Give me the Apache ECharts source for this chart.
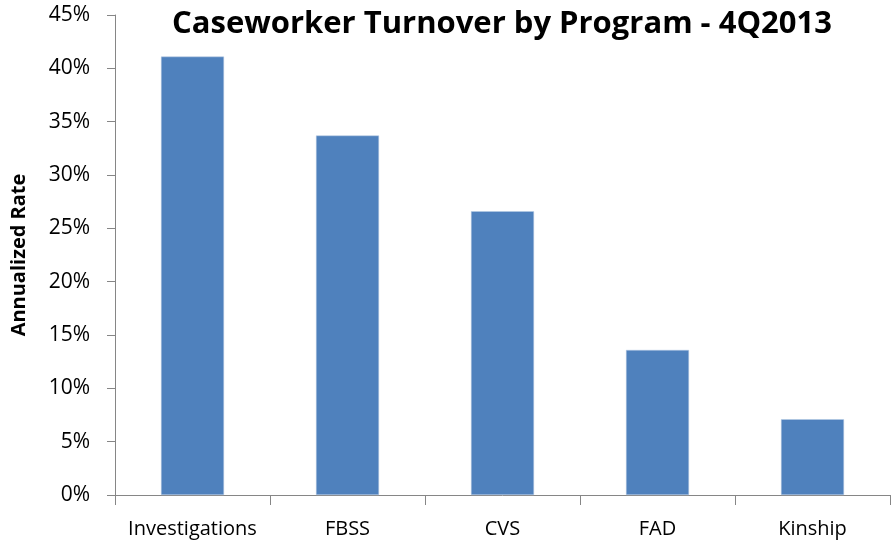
<!DOCTYPE html>
<html>
<head>
<meta charset="utf-8">
<script src="https://cdn.jsdelivr.net/npm/echarts@6/dist/echarts.min.js"></script>
<style>
  html, body { margin: 0; padding: 0; background: #fff; }
  #chart { width: 891px; height: 545px; }
</style>
</head>
<body>
<div id="chart"></div>
<script>
const programs = ['Investigations', 'FBSS', 'CVS', 'FAD', 'Kinship'];
const turnoverRates = [41.1, 33.7, 26.6, 13.6, 7.1];
const yTicks = { min: 0, max: 45, interval: 5 };

const chart = echarts.init(document.getElementById('chart'));

const font = '"Open Sans", Lato, sans-serif';

chart.setOption({
  animation: false,
  title: {
    text: 'Caseworker Turnover by Program - 4Q2013',
    left: 497,
    top: 4,
    textAlign: 'center',
    textStyle: { fontFamily: font, fontSize: 31, fontWeight: 'bold', color: '#000' }
  },
  grid: { left: 115, right: 1, top: 15, bottom: 50, outerBoundsMode: 'none' },
  xAxis: {
    type: 'category',
    data: programs,
    axisLine: { lineStyle: { color: '#868686', width: 1 } },
    axisTick: { show: true, alignWithLabel: false, length: 10, lineStyle: { color: '#868686' } },
    axisLabel: { interval: 0, fontFamily: font, fontSize: 20, color: '#000', margin: 24 }
  },
  yAxis: {
    type: 'value',
    min: yTicks.min,
    max: yTicks.max,
    interval: yTicks.interval,
    name: 'Annualized Rate',
    nameLocation: 'middle',
    nameGap: 86,
    nameTextStyle: { fontFamily: font, fontSize: 20, fontWeight: 'bold', color: '#000' },
    axisLine: { show: true, lineStyle: { color: '#868686', width: 1 } },
    axisTick: { show: true, length: 8, lineStyle: { color: '#868686' } },
    splitLine: { show: false },
    axisLabel: {
      fontFamily: font, fontSize: 21, color: '#000', margin: 15,
      padding: [0, 10, 0, 0], formatter: '{value}%'
    }
  },
  series: [{
    type: 'bar',
    data: turnoverRates,
    barWidth: 63,
    itemStyle: { color: '#4F81BD', borderColor: '#B9CDE5', borderWidth: 0.5 }
  }]
});
</script>
</body>
</html>
